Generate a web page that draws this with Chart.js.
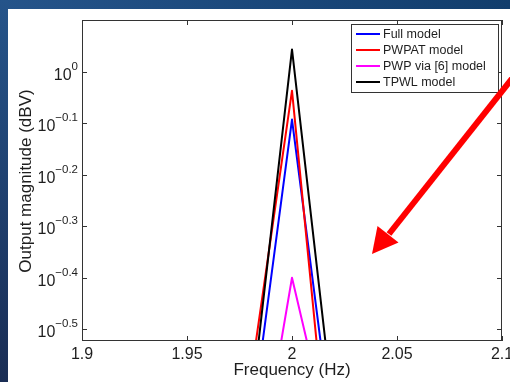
<!DOCTYPE html>
<html>
<head>
<meta charset="utf-8">
<script src="https://cdn.jsdelivr.net/npm/chart.js@4.4.1/dist/chart.umd.min.js"></script>
<style>
  html, body { margin: 0; padding: 0; background: #1f4478; }
  #wrap { width: 510px; height: 382px; position: relative; }
</style>
</head>
<body>
<div id="wrap"><canvas id="freqChart" width="510" height="382"></canvas></div>
<script>
// Data
const freqs = [1.98, 2.0, 2.02];
const fullModel = [0.195, 0.807, 0.188];
const pwpatModel = [0.249, 0.918, 0.135];
const pwpVia6Model = [0.132, 0.398, 0.179];
const tpwlModel = [0.214, 1.104, 0.214];

const seriesLabels = ['Full model', 'PWPAT model', 'PWP via [6] model', 'TPWL model'];
const seriesColors = ['#0000ff', '#ff0000', '#ff00ff', '#000000'];

const xTicks = [1.9, 1.95, 2, 2.05, 2.1];
const xTickLabels = ['1.9', '1.95', '2', '2.05', '2.1'];
const yTickExps = [0, -0.1, -0.2, -0.3, -0.4, -0.5];
const yTickLabels = ['0', '\u22120.1', '\u22120.2', '\u22120.3', '\u22120.4', '\u22120.5'];

const FONT = '"Liberation Sans", Arial, Helvetica, sans-serif';
const TEXT = '#1e1e1e';

function toPoints(vals) {
    return freqs.map((f, i) => ({ x: f, y: vals[i] }));
}

// slide background + white panel
const slideBg = {
    id: 'slideBg',
    beforeDraw(chart) {
        const c = chart.ctx;
        const w = chart.width, h = chart.height;
        c.save();
        const g = c.createLinearGradient(0, 0, 0, h);
        g.addColorStop(0, '#25548a');
        g.addColorStop(1, '#1a2d54');
        c.fillStyle = g;
        c.fillRect(0, 0, w, h);
        const g2 = c.createLinearGradient(0, 0, w, 0);
        g2.addColorStop(0, '#25548a');
        g2.addColorStop(1, '#113d6c');
        c.fillStyle = g2;
        c.fillRect(8, 0, w - 8, 9);
        c.fillStyle = '#ffffff';
        c.fillRect(8, 9, w - 8, h - 9);
        c.restore();
    }
};

// matlab style axes box, inward ticks, labels, legend, arrow
const matlabAxes = {
    id: 'matlabAxes',
    afterDraw(chart) {
        const c = chart.ctx;
        const a = chart.chartArea;
        const xs = chart.scales.x, ys = chart.scales.y;
        c.save();

        c.strokeStyle = '#333';
        c.lineWidth = 1;
        c.strokeRect(a.left + 0.5, a.top + 0.5, a.right - a.left - 1, a.bottom - a.top - 1);

        // ticks
        c.beginPath();
        xTicks.forEach(v => {
            const px = Math.round(xs.getPixelForValue(v)) + 0.5;
            c.moveTo(px, a.bottom); c.lineTo(px, a.bottom - 5);
            c.moveTo(px, a.top); c.lineTo(px, a.top + 5);
        });
        yTickExps.forEach(e => {
            const py = Math.round(ys.getPixelForValue(Math.pow(10, e))) + 0.5;
            c.moveTo(a.left, py); c.lineTo(a.left + 5, py);
            c.moveTo(a.right, py); c.lineTo(a.right - 5, py);
        });
        c.stroke();

        // x tick labels
        c.fillStyle = TEXT;
        c.font = '16px ' + FONT;
        c.textAlign = 'center';
        c.textBaseline = 'alphabetic';
        xTicks.forEach((v, i) => {
            c.fillText(xTickLabels[i], xs.getPixelForValue(v), a.bottom + 18);
        });

        // y tick labels 10^e
        yTickExps.forEach((e, i) => {
            const py = ys.getPixelForValue(Math.pow(10, e));
            c.font = '11.5px ' + FONT;
            const expW = c.measureText(yTickLabels[i]).width;
            const right = a.left - 4;
            c.textAlign = 'right';
            c.fillText(yTickLabels[i], right, py - 2);
            c.font = '16px ' + FONT;
            c.fillText('10', right - expW, py + 8);
        });

        // axis titles
        c.font = '17px ' + FONT;
        c.textAlign = 'center';
        c.fillText('Frequency (Hz)', (a.left + a.right) / 2, a.bottom + 34);
        c.save();
        c.translate(31, 181);
        c.rotate(-Math.PI / 2);
        c.fillText('Output magnitude (dBV)', 0, 0);
        c.restore();

        // legend
        const lx = 351, ly = 24, lw = 147, lh = 68;
        c.fillStyle = '#ffffff';
        c.fillRect(lx, ly, lw, lh);
        c.strokeStyle = '#333';
        c.lineWidth = 1;
        c.strokeRect(lx + 0.5, ly + 0.5, lw, lh);
        c.font = '12.5px ' + FONT;
        c.textAlign = 'left';
        c.textBaseline = 'middle';
        chart.data.datasets.forEach((ds, i) => {
            const y = 34 + i * 16;
            c.strokeStyle = ds.borderColor;
            c.lineWidth = 2;
            c.beginPath();
            c.moveTo(356, y); c.lineTo(380, y);
            c.stroke();
            c.fillStyle = TEXT;
            c.fillText(ds.label, 383, y + 0.5);
        });

        // red annotation arrow
        c.fillStyle = '#ff0000';
        c.strokeStyle = '#ff0000';
        c.lineWidth = 6;
        c.beginPath();
        c.moveTo(522, 66); c.lineTo(389, 234);
        c.stroke();
        c.beginPath();
        c.moveTo(372, 254);
        c.lineTo(377.5, 226);
        c.lineTo(398.5, 242.5);
        c.closePath();
        c.fill();

        c.restore();
    }
};

const datasetValues = [fullModel, pwpatModel, pwpVia6Model, tpwlModel];

new Chart(document.getElementById('freqChart'), {
    type: 'line',
    data: {
        datasets: datasetValues.map((vals, i) => ({
            label: seriesLabels[i],
            data: toPoints(vals),
            borderColor: seriesColors[i],
            backgroundColor: seriesColors[i],
            borderWidth: 2,
            borderJoinStyle: 'round',
            pointRadius: 0,
            tension: 0,
            fill: false,
            clip: 0,
            order: 3 - i
        }))
    },
    options: {
        responsive: false,
        animation: false,
        events: [],
        layout: { padding: { left: 82, top: 20, right: 8, bottom: 41 } },
        plugins: {
            legend: { display: false },
            tooltip: { enabled: false }
        },
        scales: {
            x: { type: 'linear', display: false, min: 1.9, max: 2.1 },
            y: { type: 'logarithmic', display: false, min: Math.pow(10, -0.5), max: Math.pow(10, 0.1) }
        }
    },
    plugins: [slideBg, matlabAxes]
});
</script>
</body>
</html>
